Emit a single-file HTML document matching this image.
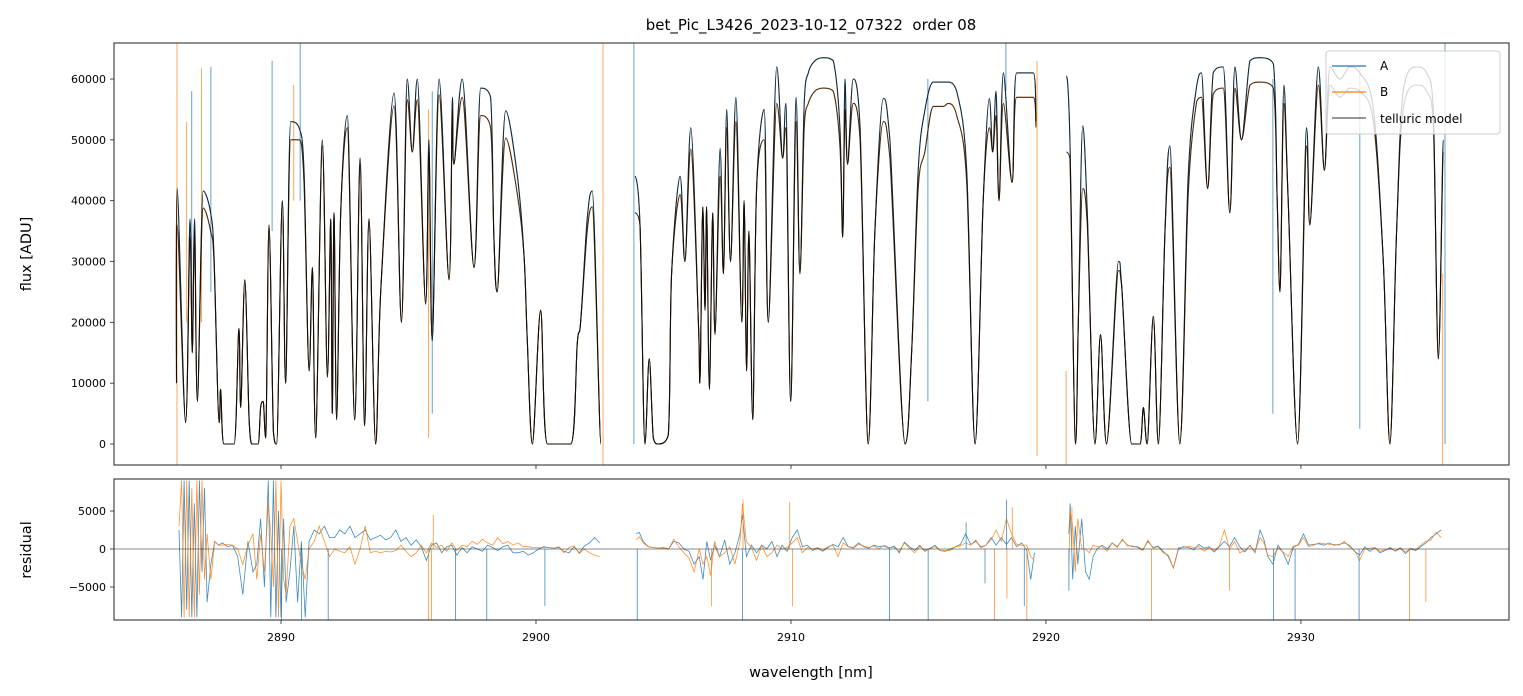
<!DOCTYPE html>
<html><head><meta charset="utf-8"><style>
html,body{margin:0;padding:0;background:#fff;}
svg{display:block;font-family:"DejaVu Sans","Liberation Sans",sans-serif;}
</style></head><body>
<svg id="chart" width="1523" height="696" viewBox="0 0 1523 696">
<defs>
<clipPath id="clipTop"><rect x="114" y="43" width="1395" height="422"/></clipPath>
<clipPath id="clipBot"><rect x="114" y="479" width="1395" height="141"/></clipPath>
</defs>
<rect x="0" y="0" width="1523" height="696" fill="#fff"/>
<text x="811" y="30" text-anchor="middle" font-size="15">bet_Pic_L3426_2023-10-12_07322&#160; order 08</text>
<g id="topMarks" clip-path="url(#clipTop)"></g>
<g id="botMarks" clip-path="url(#clipBot)"></g>
<g id="axes"></g>
<rect x="114" y="43" width="1395" height="422" fill="none" stroke="#222" stroke-width="1"/>
<rect x="114" y="479" width="1395" height="141" fill="none" stroke="#222" stroke-width="1"/>
<text transform="translate(31,254) rotate(-90)" text-anchor="middle" font-size="14.5">flux [ADU]</text>
<text transform="translate(31,550) rotate(-90)" text-anchor="middle" font-size="14.5">residual</text>
<text x="811" y="677" text-anchor="middle" font-size="14.5">wavelength [nm]</text>
<g>
<rect x="1326" y="51" width="174" height="83" rx="3" fill="#fff" fill-opacity="0.8" stroke="#ccc" stroke-width="1"/>
<line x1="1332" y1="66" x2="1366" y2="66" stroke="#1f77b4" stroke-width="1.3"/>
<text x="1380" y="70" font-size="12">A</text>
<line x1="1332" y1="92" x2="1366" y2="92" stroke="#ff7f0e" stroke-width="1.3"/>
<text x="1380" y="96" font-size="12">B</text>
<line x1="1332" y1="118" x2="1366" y2="118" stroke="#000" stroke-opacity="0.65" stroke-width="1.3"/>
<text x="1380" y="123" font-size="12">telluric model</text>
</g>
</svg>
<script>
// ---- data (flux in thousands of ADU) ----
const wl = [2885.90,2885.93,2886.26,2886.43,2886.52,2886.61,2886.72,2886.95,2887.24,2887.37,2887.57,2887.63,2887.76,2888.16,2888.35,2888.42,2888.58,2888.75,2888.88,2889.10,2889.20,2889.30,2889.40,2889.53,2889.70,2889.83,2890.05,2890.18,2890.38,2890.71,2890.90,2891.10,2891.23,2891.36,2891.62,2891.82,2891.95,2892.01,2892.08,2892.18,2892.34,2892.60,2892.89,2893.10,2893.28,2893.45,2893.71,2893.91,2894.43,2894.72,2894.95,2895.15,2895.35,2895.67,2895.80,2895.93,2896.20,2896.59,2896.72,2896.78,2897.11,2897.57,2897.83,2898.22,2898.35,2898.48,2898.81,2899.27,2899.53,2899.66,2899.86,2900.18,2900.45,2901.36,2901.62,2901.75,2902.01,2902.21,2902.54,
null,
2903.88,2904.08,2904.27,2904.44,2904.60,2904.80,2905.19,2905.32,2905.65,2905.84,2906.07,2906.37,2906.43,2906.54,2906.63,2906.69,2906.80,2906.93,2907.02,2907.22,2907.35,2907.48,2907.63,2907.84,2908.07,2908.16,2908.26,2908.35,2908.50,2908.65,2908.95,2909.11,2909.44,2909.67,2909.80,2909.99,2910.20,2910.35,2910.52,2910.68,2910.94,2911.27,2911.66,2911.92,2912.03,2912.12,2912.22,2912.44,2912.71,2913.03,2913.29,2913.62,2913.88,2914.47,2914.73,2914.99,2915.25,2915.58,2915.97,2916.17,2916.50,2916.89,2917.22,2917.54,2917.78,2917.91,2918.04,2918.16,2918.33,2918.67,2918.85,2919.50,2919.61,
null,
2920.80,2920.94,2921.16,2921.27,2921.44,2921.62,2921.92,2922.14,2922.38,2922.84,2922.97,2923.36,2923.69,2923.82,2923.97,2924.21,2924.41,2924.67,2924.86,2925.25,2925.58,2925.91,2926.10,2926.34,2926.56,2926.95,2927.21,2927.41,2927.67,2928.00,2928.39,2928.92,2929.07,2929.18,2929.33,2929.50,2929.87,2930.22,2930.35,2930.68,2930.92,2931.14,2931.53,2931.92,2932.31,2932.84,2933.23,2933.49,2933.75,2934.01,2934.54,2934.93,2935.19,2935.39,2935.58];
const fluxA = [10,42,3.5,37,15,37,7,41.6,38,31,3.5,9,0,0,19,6,27,4,0,0,6,7,1,36,2,0,40,10,53,52,45,12,29,1,50,11,37,5,38,4,38,54,4,47,3,37,0,25,57.7,20,60,48,60,23,50,17,60,27,57,46,60,29,58.5,57,34,25,54.8,44,31,17,0,22,0,0,16.6,20,37,41.6,0,
null,
44,36,0,14,1,0,1.5,28,44,30,52,20,10,39,22,39,9,38,18,48.6,28,55,30,57,20,40,12,35,4,42,55,20,62,47,56,7,57,28,56,61,63,63.5,63,52,34,60,46,60,52,0,35,56.8,50,0,15,45,54.8,59.5,59.5,59.5,58,45,0,40,56.8,48,58,40,61,43,61,61,53,
null,
60.5,50,0,20,52.3,38,0,18,0,30,26,0,0,6,0,21,0,35,49,0,44,58.8,61,42,61,62,38,62,50,63,63.5,62.5,40,25,59,40,0,52,36,62,45,62,60,62,61,55,30,0,35,58,62,61,55,14,50];
const fluxB = [10,36,3.5,34,15,35,7,38.8,35,30,3.5,9,0,0,19,6,27,4,0,0,6,7,1,36,2,0,40,10,50,50,43,12,29,1,49,11,37,5,38,4,38,52,4,46,3,37,0,25,55.6,20,56.6,48,56.6,23,48,17,57.4,27,55,46,57,29,54,52,34,25,50.3,41,31,17,0,22,0,0,16.6,20,35,39,0,
null,
38,36,0,14,1,0,1.5,28,41,30,48.5,20,10,39,22,39,9,38,18,44,28,52,30,53,20,40,12,35,4,42,50,20,56,47,52,7,53,28,52,56,58,58.5,58,49,34,55,46,56,50,0,35,53,47,0,15,42,48,55.5,55.5,56,54,43,0,40,52,48,54,40,56,43,57,57,52,
null,
48,47,0,20,42,36,0,18,0,28.5,26,0,0,6,0,21,0,35,45.5,0,41,56.3,57,42,57.5,58.5,38,58.5,50,59,59.5,58.5,40,25,56,40,0,49,36,59,45,59,57,58.5,58,53,30,0,35,55,59,58,53,14,48];
// spikes in flux panel: wavelength, low, high (thousands), series
const spikeWl = [2885.92,2902.63,2919.65,2920.79,2935.56,2903.84,2890.75,2886.50,2915.37,2895.93,2918.43,2928.90,2932.31,2935.65,2886.30,2886.88,2887.25,2890.50,2889.65,2895.78];
const spikeLo = [-3.4,-3.4,-2,-3.4,-3.4,0,40,20,7,5,58,5,2.5,0,20,20,25,40,35,1];
const spikeHi = [65.9,65.9,63,12,28,65.9,66,58,60,58,66,60,62,66,53,61.8,62,59,63,55];
const spikeSeries = ["B","B","B","B","B","A","A","A","A","A","A","A","A","A","B","B","A","B","A","B"];
// residuals (thousands)
const resWl = [2886.00,2886.10,2886.20,2886.30,2886.40,2886.50,2886.60,2886.70,2886.80,2886.90,2887.00,2887.10,2887.25,2887.40,2887.55,2887.70,2887.90,2888.10,2888.30,2888.50,2888.70,2888.90,2889.05,2889.20,2889.35,2889.50,2889.60,2889.70,2889.80,2889.90,2890.00,2890.10,2890.20,2890.35,2890.50,2890.65,2890.80,2890.95,2891.10,2891.30,2891.50,2891.70,2891.90,2892.10,2892.30,2892.50,2892.70,2892.90,2893.10,2893.30,2893.50,2893.70,2893.90,2894.10,2894.30,2894.50,2894.70,2894.90,2895.10,2895.30,2895.50,2895.70,2895.90,2896.10,2896.30,2896.50,2896.70,2896.90,2897.10,2897.30,2897.50,2897.70,2897.90,2898.10,2898.30,2898.50,2898.70,2898.90,2899.10,2899.30,2899.50,2899.70,2899.90,2900.10,2900.30,2900.50,2900.70,2900.90,2901.10,2901.30,2901.50,2901.70,2901.90,2902.10,2902.30,2902.50,
null,
2903.93,2904.05,2904.20,2904.40,2904.60,2904.80,2905.00,2905.20,2905.40,2905.60,2905.80,2906.00,2906.20,2906.40,2906.55,2906.70,2906.85,2907.00,2907.20,2907.40,2907.60,2907.80,2908.00,2908.10,2908.25,2908.45,2908.65,2908.85,2909.05,2909.25,2909.45,2909.65,2909.85,2910.05,2910.25,2910.45,2910.65,2910.85,2911.05,2911.25,2911.45,2911.65,2911.85,2912.05,2912.25,2912.45,2912.65,2912.85,2913.05,2913.25,2913.45,2913.65,2913.85,2914.05,2914.25,2914.45,2914.65,2914.85,2915.05,2915.25,2915.45,2915.65,2915.85,2916.05,2916.25,2916.45,2916.65,2916.85,2917.05,2917.25,2917.45,2917.65,2917.85,2918.05,2918.25,2918.45,2918.65,2918.85,2919.05,2919.25,2919.40,2919.55,
null,
2920.90,2920.95,2921.05,2921.15,2921.25,2921.40,2921.55,2921.70,2921.85,2922.00,2922.20,2922.40,2922.60,2922.80,2923.00,2923.20,2923.40,2923.60,2923.80,2924.00,2924.20,2924.40,2924.60,2924.80,2925.00,2925.20,2925.40,2925.60,2925.80,2926.00,2926.20,2926.40,2926.60,2926.80,2927.00,2927.20,2927.40,2927.60,2927.80,2928.00,2928.20,2928.40,2928.55,2928.70,2928.90,2929.10,2929.30,2929.50,2929.70,2929.90,2930.10,2930.30,2930.50,2930.70,2930.90,2931.10,2931.30,2931.50,2931.70,2931.90,2932.10,2932.30,2932.50,2932.70,2932.90,2933.10,2933.30,2933.50,2933.70,2933.90,2934.10,2934.30,2934.50,2934.70,2934.90,2935.10,2935.30,2935.50];
const resA = [2.5,-9,9,-8,9,-9,6,-9,9,-3,8,-7,-2,1,0.5,0.8,0.3,0.5,-1,-6,1,-3,-2,4,-5,9,-9,9,-9,5,-9,4,-7,-3,3,-7,1,-9,1,2.5,2,3,1.5,1.5,2.5,2,3,1.5,2,2.5,1.2,1.5,1.8,1.2,1.5,2.5,1,1.5,0.5,1.2,0.3,-1.5,0.5,0.8,-0.5,0.3,0.5,-0.8,0.2,-0.5,0.3,0,-0.3,0.5,0.2,-0.2,0.3,0.5,-0.5,-0.5,-0.3,-0.8,-0.5,0,0.3,0.2,0.1,0.2,-0.3,-0.5,0.3,-0.5,0.4,0.8,1.5,0.8,
null,
2,2.2,1,0.3,0.2,0.1,0.2,0,1,0.8,0,-0.3,-2,-1,-4,1,-1.5,0.5,-1,1.2,-2,-0.5,2,4.5,-1,0.5,-0.5,0.5,0,1,-1,0.5,-0.3,1.5,2.5,0.3,0.5,-0.2,0.1,-0.3,0.2,0.6,0.3,1.5,0.3,0.2,0.8,0.3,0.1,0.5,0.3,0.4,0.1,0.4,-0.5,0.9,0.3,-0.2,0.5,-0.3,0.1,0.5,-0.2,-0.3,0,0.3,0.6,2,0.6,1,0.3,0.5,1.5,0.5,1.5,0.6,1.5,0.3,0.8,-0.2,-4,-0.5,
null,
2,6,-4,3,-2,4,-3,-4,-1,0,0.5,0,0.8,0.3,1.2,0.5,0.3,0.3,-0.1,1,0.2,0.4,-0.3,-1,-2.5,0,0.3,0.2,-0.1,0.6,0.1,0.3,-0.4,0.3,1,0.3,1.5,0.3,-0.4,0.5,-0.5,2.5,1.2,-1,-2,0.5,-0.5,-2,0.2,0.6,2,0.5,0.6,0.7,0.5,0.8,0.5,0.6,0.8,0.5,-0.3,-0.8,0.3,-0.3,0.2,-0.5,-0.2,0.2,-0.3,0.1,-0.6,0,-0.2,0.3,0.8,1.5,2,2.5];
const resB = [3,9,-9,9,-9,8,-9,9,-6,9,-4,2,-4,1,0.5,0.5,0.6,0.5,0,-2,0.5,2,-4,2,-3,6,2,-5,9,-9,9,-4,-6,3,4,1,-2,-4,0,1,3,1,-1,0,-0.3,-0.5,0.3,-2,0,3,-0.5,-0.3,-0.5,-0.3,-0.4,-0.2,0.5,-0.3,-1,-0.5,0.5,-0.5,0.8,0.2,0.5,-0.3,0.8,-0.2,0.5,0.3,1,0.6,1.3,0.8,0.5,1.5,0.7,1,0.5,0.8,0.3,0.3,0.2,0.2,0.2,0.2,0.1,0.3,-0.5,0.2,0.4,-0.6,0,-0.5,-0.8,-1,
null,
1.2,1.6,0.8,0.3,0.2,0.1,0.1,0,1.3,0.3,-0.5,-1.2,-3,0,-2,-1,-3.5,1,-1,-0.5,0.3,-2,1,6,1,0.2,-1.5,0.5,-1,-0.5,0.5,0,0.2,0.8,1.5,-0.5,0.2,0,0.2,-0.2,0.3,0.5,-1,0.8,0.3,0.1,0.6,0.4,0.2,0.4,0,0.5,0.2,0.2,-0.3,0.8,0.1,-0.5,0.3,-0.1,0,0.3,-0.2,-0.2,-0.2,0.3,0.4,0.8,0.5,1.2,0.1,0.5,1.2,2.5,1,4,2,0.6,0.5,0.5,-1,-1.5,
null,
-2,5,3,-3,4,0,0,-0.5,0.5,0.3,0.3,-0.3,0.8,0.2,1.3,0.4,0.4,0.2,-0.2,1.2,0.1,0.3,-0.5,-0.8,-2.5,0.2,0.2,0.4,0.2,0.3,-0.3,0.2,-0.2,0.4,2.5,0,1,-0.5,-0.2,0.4,-0.3,1.5,0.8,-0.8,-1,0.2,-0.4,-1,0.4,0.5,1.5,0.3,0.5,0.8,0.7,0.6,0.6,0.5,1,0.3,-0.2,-1.5,0,0.1,0.2,-0.3,-0.1,0,-0.2,0.2,-0.4,0.1,-0.1,0.5,1,1.2,2.2,1.5];
// residual spikes: wavelength, value, series
const rSpikeWl = [2890.02,2890.80,2891.85,2896.84,2898.07,2900.35,2903.97,2908.10,2913.86,2915.38,2917.61,2919.15,2920.90,2928.92,2929.77,2932.28,2918.45,2916.87,2895.79,2895.90,2906.88,2910.06,2895.97,2908.12,2909.95,2917.98,2918.47,2919.25,2924.14,2927.20,2934.26,2934.90,2918.68,2921.02];
const rSpikeVal = [-9.3,-9.3,-9.3,-9.3,-9.3,-7.5,-9.3,-9.3,-9.3,-9.3,-4.5,-7.5,-5.5,-9.3,-9.3,-9.3,6.5,3.5,-9.3,-9.3,-7.5,-7.5,4.5,6.5,6.2,-9.3,-6.5,-9.3,-9.3,-5.5,-9.3,-7,5.5,5.5];
const rSpikeSeries = ["A","A","A","A","A","A","A","A","A","A","A","A","A","A","A","A","A","A","B","B","B","B","B","B","B","B","B","B","B","B","B","B","B","B"];
const xTicks = [2890,2900,2910,2920,2930];
const xTickLabels = ["2890","2900","2910","2920","2930"];
const yTicks = [0,10,20,30,40,50,60];
const yTickLabels = ["0","10000","20000","30000","40000","50000","60000"];
const rTicks = [-5,0,5];
const rTickLabels = ["−5000","0","5000"];

// ---- axes functions ----
const X0=114, X1=1509, WMIN=2883.45, WMAX=2938.16;
const sx = w => X0 + (w-WMIN)/(WMAX-WMIN)*(X1-X0);
const sy = f => 444 - f*6.083;
const sr = r => 549 - r*7.6;
const NS="http://www.w3.org/2000/svg";
const colA="#1f77b4", colB="#ff7f0e";

function valid(v){ return v!==null && v!==undefined; }
function segments(xs, ys, fy){
  const segs=[]; let cur=[];
  for(let i=0;i<xs.length;i++){
    if(!valid(xs[i])||!valid(ys[i])){ if(cur.length) segs.push(cur); cur=[]; continue; }
    cur.push([sx(xs[i]), fy(ys[i])]);
  }
  if(cur.length) segs.push(cur);
  return segs;
}
function pathFrom(xs, ys, fy){
  let d="";
  for(const s of segments(xs,ys,fy)){
    s.forEach((p,i)=>{ d += (i?"L":"M") + p[0].toFixed(1)+","+p[1].toFixed(1); });
  }
  return d;
}
function clampv(v,a,b){ const lo=Math.min(a,b), hi=Math.max(a,b); return Math.max(lo,Math.min(hi,v)); }
function smoothFrom(xs, ys, fy){
  let d="";
  for(const s of segments(xs,ys,fy)){
    d += "M"+s[0][0].toFixed(1)+","+s[0][1].toFixed(1);
    for(let i=0;i<s.length-1;i++){
      const p0=s[Math.max(0,i-1)], p1=s[i], p2=s[i+1], p3=s[Math.min(s.length-1,i+2)];
      const c1x=p1[0]+(p2[0]-p0[0])/6, c2x=p2[0]-(p3[0]-p1[0])/6;
      let c1y=p1[1]+(p2[1]-p0[1])/6, c2y=p2[1]-(p3[1]-p1[1])/6;
      c1y=clampv(c1y,p1[1],p2[1]); c2y=clampv(c2y,p1[1],p2[1]);
      // local extrema: flat tangent
      if((p1[1]-p0[1])*(p2[1]-p1[1])<=0) c1y=p1[1];
      if((p2[1]-p1[1])*(p3[1]-p2[1])<=0) c2y=p2[1];
      d += "C"+c1x.toFixed(1)+","+c1y.toFixed(1)+" "+c2x.toFixed(1)+","+c2y.toFixed(1)+" "+p2[0].toFixed(1)+","+p2[1].toFixed(1);
    }
  }
  return d;
}
function mk(tag, attrs){ const e=document.createElementNS(NS,tag); for(const k in attrs) e.setAttribute(k,attrs[k]); return e; }

const topG=document.getElementById("topMarks");
const botG=document.getElementById("botMarks");
const axesG=document.getElementById("axes");

let pA=mk("path",{d:smoothFrom(wl,fluxA,sy),fill:"none",stroke:colA,"stroke-width":"1","stroke-opacity":"0.85"});


topG.appendChild(pA);
let pB=mk("path",{d:smoothFrom(wl,fluxB,sy),fill:"none",stroke:colB,"stroke-width":"1","stroke-opacity":"0.85"});


topG.appendChild(pB);
for(let i=0;i<spikeWl.length;i++){
  const l=mk("line",{x1:sx(spikeWl[i]),x2:sx(spikeWl[i]),y1:sy(spikeLo[i]),y2:sy(spikeHi[i]),stroke:spikeSeries[i]==="A"?colA:colB,"stroke-width":"0.8","stroke-opacity":"0.85"});
  
  
  topG.appendChild(l);
}
let mA=mk("path",{d:smoothFrom(wl,fluxA,sy),fill:"none",stroke:"#000","stroke-width":"1.1","stroke-opacity":"0.7"});


topG.appendChild(mA);
let mB=mk("path",{d:smoothFrom(wl,fluxB,sy),fill:"none",stroke:"#000","stroke-width":"1.1","stroke-opacity":"0.7"});


topG.appendChild(mB);

let rA=mk("path",{d:pathFrom(resWl,resA,sr),fill:"none",stroke:colA,"stroke-width":"0.8","stroke-opacity":"0.85"});


botG.appendChild(rA);
let rB=mk("path",{d:pathFrom(resWl,resB,sr),fill:"none",stroke:colB,"stroke-width":"0.8","stroke-opacity":"0.85"});


botG.appendChild(rB);
for(let i=0;i<rSpikeWl.length;i++){
  const l=mk("line",{x1:sx(rSpikeWl[i]),x2:sx(rSpikeWl[i]),y1:sr(0),y2:sr(rSpikeVal[i]),stroke:rSpikeSeries[i]==="A"?colA:colB,"stroke-width":"0.8","stroke-opacity":"0.85"});
  
  
  botG.appendChild(l);
}
let zl=mk("line",{x1:X0,x2:X1,y1:sr(0),y2:sr(0),stroke:"#000","stroke-width":"0.7","stroke-opacity":"0.6"});


botG.appendChild(zl);

for(let i=0;i<xTicks.length;i++){
  const x=sx(xTicks[i]);
  const t1=mk("line",{x1:x,x2:x,y1:465,y2:469,stroke:"#222","stroke-width":"0.8"});
  
  
  axesG.appendChild(t1);
  const t2=mk("line",{x1:x,x2:x,y1:620,y2:624,stroke:"#222","stroke-width":"0.8"});
  
  
  axesG.appendChild(t2);
  const tx=mk("text",{x:x,y:641,"text-anchor":"middle","font-size":"11"});
  tx.textContent=xTickLabels[i];
  
  
  axesG.appendChild(tx);
}
for(let i=0;i<yTicks.length;i++){
  const y=sy(yTicks[i]);
  const t=mk("line",{x1:110,x2:114,y1:y,y2:y,stroke:"#222","stroke-width":"0.8"});
  
  
  axesG.appendChild(t);
  const tx=mk("text",{x:106,y:y+4,"text-anchor":"end","font-size":"11"});
  tx.textContent=yTickLabels[i];
  
  
  axesG.appendChild(tx);
}
for(let i=0;i<rTicks.length;i++){
  const y=sr(rTicks[i]);
  const t=mk("line",{x1:110,x2:114,y1:y,y2:y,stroke:"#222","stroke-width":"0.8"});
  
  
  axesG.appendChild(t);
  const tx=mk("text",{x:106,y:y+4,"text-anchor":"end","font-size":"11"});
  tx.textContent=rTickLabels[i];
  
  
  axesG.appendChild(tx);
}
</script>
</body></html>
